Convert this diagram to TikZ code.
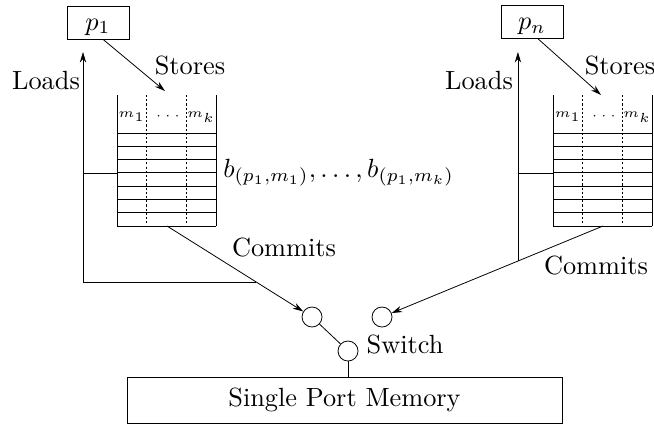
\documentclass[tikz,border=0pt]{standalone}
\usetikzlibrary{arrows.meta,calc}
\begin{document}
\begin{tikzpicture}[x=0.38pt,y=-0.38pt, line width=0.3pt,
  proc/.style={draw, minimum width=23.6pt, minimum height=12.5pt, inner sep=0pt, text height=5.7pt, text depth=0pt},
  swc/.style={draw, circle, minimum size=7.6pt, inner sep=0pt},
  arr/.style={-{Stealth[length=4pt,width=2.4pt]}},
  dsh/.style={dash pattern=on 0.8pt off 0.8pt},
  lbl/.style={anchor=base, inner sep=0pt},
  tinylbl/.style={font=\tiny, inner sep=0pt}]
\useasboundingbox (0,0) rectangle (654,425);

% buffers
\foreach \bx/\nm in {117/L, 553/R} {
  \draw (\bx,95) -- (\bx,226);
  \draw (\bx+99,95) -- (\bx+99,226);
  \foreach \i in {0,...,7} \draw (\bx,133+13.29*\i) -- (\bx+99,133+13.29*\i);
  \draw[dsh] (\bx+29,95) -- (\bx+29,226);
  \draw[dsh] (\bx+69,95) -- (\bx+69,226);
  \node[tinylbl] (m1\nm) at (\bx+14.7,117) {$m_1$};
  \node[tinylbl] (md\nm) at (\bx+51,116) {$\cdots$};
  \node[tinylbl] (mk\nm) at (\bx+84,117) {$m_k$};
  \coordinate (bot\nm) at (\bx+50,226);
  \coordinate (side\nm) at (\bx,173);
}

% processors
\node[proc] (p1) at (98,22.5) {$p_1$};
\node[proc] (pn) at (532,22) {$p_n$};
\coordinate (stL) at (165,91);
\coordinate (stR) at (601,95);
\draw[arr] ([xshift=1.9pt]p1.south) -- (stL);
\draw[arr] ([xshift=2.3pt]pn.south) -- (stR);

% switch and memory
\node[swc] (c1) at (312,317) {};
\node[swc] (c2) at (382,317) {};
\node[swc] (swn) at (348,351) {};
\node[draw, minimum width=165.3pt, minimum height=17.5pt, inner sep=0pt] (mem) at (344.5,400) {Single Port Memory};

% commits
\draw[arr] (botL) -- (c1);
\draw[arr] (botR) -- (c2);

% loads
\coordinate (jL) at ($(botL)!0.615!(c1)$);
\coordinate (ldL) at (83,52);
\draw[arr] (jL) -| (ldL);
\draw (sideL) -- (sideL -| ldL);
\coordinate (jR) at ($(botR)!0.385!(c2)$);
\coordinate (ldR) at (jR |- 0,52);
\draw[arr] (jR) -- (ldR);
\draw (sideR) -- (sideR -| jR);

% switch wiring
\draw (c1) -- (swn);
\draw (swn) -- (swn |- mem.north);

% labels
\node[lbl] (loadsL) at (46,89) {Loads};
\node[lbl] (storesL) at (190,74) {Stores};
\node[lbl] (loadsR) at (479,89) {Loads};
\node[lbl] (storesR) at (620,74) {Stores};
\node[lbl] (commL) at (284,256) {Commits};
\node[lbl] (commR) at (596,274) {Commits};
\node[lbl] (swl) at (405,353) {Switch};
\node[anchor=base west, inner sep=0pt] (blab) at (223,177) {$b_{(p_1,m_1)},\ldots,b_{(p_1,m_k)}$};
\end{tikzpicture}
\end{document}
